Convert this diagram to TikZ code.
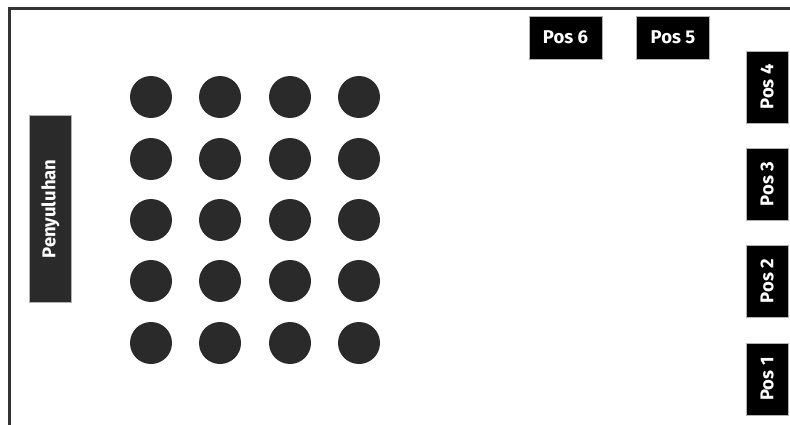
\documentclass[tikz,border=0pt]{standalone}
\usepackage{fontspec}
\setmainfont{Fira Sans}
\begin{document}
\begin{tikzpicture}[x=1pt,y=-1pt,
  seat/.style={circle,fill=seatgray,inner sep=0pt,minimum size=42pt},
  postext/.style={text=white,font=\fontsize{18.5}{18.5}\selectfont\bfseries},
  posbox/.style={fill=black,draw=gray!60,line width=0.4pt,inner sep=0pt,postext},
  border/.style={draw=black!80,line width=2.2pt}]
\definecolor{seatgray}{HTML}{2A2A2A}
\useasboundingbox (0,0) rectangle (790,425);
\fill[white] (0,0) rectangle (790,425);
\coordinate (tl) at (9.5,8.5);
\coordinate (tr) at (790,8.5);
\coordinate (bl) at (9.5,425);
\draw[border] (tr) -- (tl) -- (bl);
% seats
\foreach \c/\x in {1/151,2/220,3/290,4/359}{
  \foreach \r/\y in {1/97,2/159,3/220,4/281,5/343}{
    \node[seat] (s\r\c) at (\x,\y) {};
  }
}
% Penyuluhan
\node[posbox,fill=seatgray,minimum width=42pt,minimum height=187pt] (peny) at (50.5,209) {};
\node[rotate=90,postext] (penyt) at (peny.center) {Penyuluhan};
% horizontal pos
\node[posbox,minimum width=73pt,minimum height=43pt] (p6) at (565.5,37.5) {Pos 6};
\node[posbox,minimum width=73pt,minimum height=43pt] (p5) at (673,37.5) {Pos 5};
% vertical pos
\node[posbox,minimum width=42pt,minimum height=72pt] (p4b) at (767,87) {};
\node[rotate=90,postext] (p4) at (p4b.center) {Pos 4};
\node[posbox,minimum width=42pt,minimum height=72pt] (p3b) at (767,184) {};
\node[rotate=90,postext] (p3) at (p3b.center) {Pos 3};
\node[posbox,minimum width=42pt,minimum height=72pt] (p2b) at (767,281) {};
\node[rotate=90,postext] (p2) at (p2b.center) {Pos 2};
\node[posbox,minimum width=42pt,minimum height=72pt] (p1b) at (767,379) {};
\node[rotate=90,postext] (p1) at (p1b.center) {Pos 1};
\end{tikzpicture}
\end{document}
